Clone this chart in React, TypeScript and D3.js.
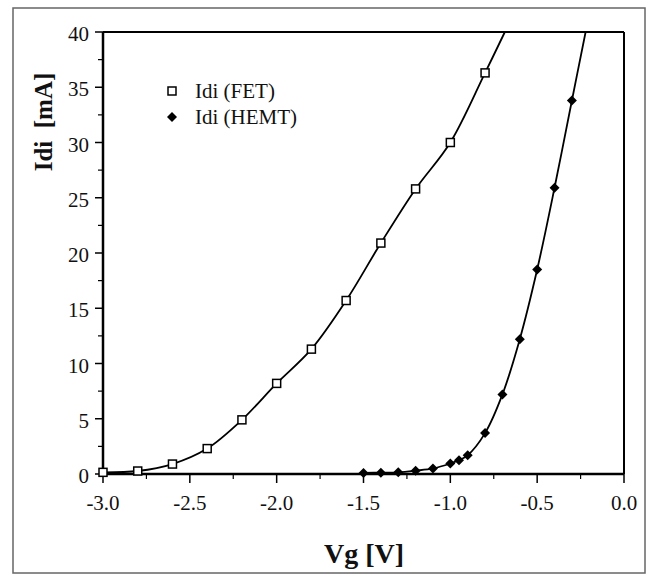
import React from "react";
import * as d3 from "d3";

const fetVg = [-3.0, -2.8, -2.6, -2.4, -2.2, -2.0, -1.8, -1.6, -1.4, -1.2, -1.0, -0.8];
const fetIdi = [0.15, 0.27, 0.9, 2.3, 4.9, 8.2, 11.3, 15.7, 20.9, 25.8, 30.0, 36.3];
const fetCurveEnd = [-0.686, 40];

const hemtVg = [-1.5, -1.4, -1.3, -1.2, -1.1, -1.0, -0.95, -0.9, -0.8, -0.7, -0.6, -0.5, -0.4, -0.3];
const hemtIdi = [0.1, 0.12, 0.15, 0.3, 0.5, 0.95, 1.25, 1.7, 3.7, 7.2, 12.2, 18.5, 25.9, 33.8];
const hemtCurveEnd = [-0.221, 40];

const xTicks = [-3.0, -2.5, -2.0, -1.5, -1.0, -0.5, 0.0];
const xMinor = [-2.75, -2.25, -1.75, -1.25, -0.75, -0.25];
const yTicks = [0, 5, 10, 15, 20, 25, 30, 35, 40];
const yMinor = [2.5, 7.5, 12.5, 17.5, 22.5, 27.5, 32.5, 37.5];

const legendLabels = ["Idi (FET)", "Idi (HEMT)"];

const FONT = "Liberation Serif, Times New Roman, Times, serif";

export default function App() {
  const W = 654, H = 576;
  const L = 103, R = 624, T = 32, B = 474;
  const x = d3.scaleLinear().domain([-3, 0]).range([L, R]);
  const y = d3.scaleLinear().domain([0, 40]).range([B, T]);
  const line = d3
    .line<number[]>()
    .x((d) => x(d[0]))
    .y((d) => y(d[1]))
    .curve(d3.curveCatmullRom.alpha(0.5));
  const fetPts = fetVg.map((v, i) => [v, fetIdi[i]]).concat([fetCurveEnd]);
  const hemtPts = hemtVg.map((v, i) => [v, hemtIdi[i]]).concat([hemtCurveEnd]);
  const sq = 8;
  const dm = 5;
  const diamond = (cx: number, cy: number) =>
    `M${cx},${cy - dm}L${cx + dm},${cy}L${cx},${cy + dm}L${cx - dm},${cy}Z`;
  const ts = { fontFamily: FONT } as React.CSSProperties;

  return (
    <svg
      width={W}
      height={H}
      style={{ position: "absolute", left: 0, top: 0, background: "#fff" }}
    >
      <rect x={0} y={0} width={W} height={H} fill="#fff" />
      <rect x={13} y={8} width={632} height={565} fill="none" stroke="#666" strokeWidth={1.5} />
      {/* plot frame */}
      <line x1={L} x2={R} y1={T} y2={T} stroke="#000" strokeWidth={2} />
      <line x1={R} x2={R} y1={T} y2={B} stroke="#000" strokeWidth={2} />
      <line x1={L} x2={R} y1={B} y2={B} stroke="#000" strokeWidth={2.5} />
      <line x1={L} x2={L} y1={T} y2={B} stroke="#000" strokeWidth={2.5} />
      {/* x ticks */}
      {xTicks.map((t) => (
        <g key={"xt" + t}>
          <line x1={x(t)} x2={x(t)} y1={B} y2={B + 9} stroke="#000" strokeWidth={1.5} />
          <text x={x(t)} y={510} textAnchor="middle" fontSize={21} fill="#111" style={ts}>
            {t.toFixed(1)}
          </text>
        </g>
      ))}
      {xMinor.map((t) => (
        <line key={"xm" + t} x1={x(t)} x2={x(t)} y1={B} y2={B + 5} stroke="#000" strokeWidth={1.2} />
      ))}
      {/* y ticks */}
      {yTicks.map((t) => (
        <g key={"yt" + t}>
          <line x1={L - 8} x2={L} y1={y(t)} y2={y(t)} stroke="#000" strokeWidth={1.5} />
          <text x={89} y={y(t) + 9} textAnchor="end" fontSize={21} fill="#111" style={ts}>
            {t}
          </text>
        </g>
      ))}
      {yMinor.map((t) => (
        <line key={"ym" + t} x1={L - 5} x2={L} y1={y(t)} y2={y(t)} stroke="#000" strokeWidth={1.2} />
      ))}
      {/* curves */}
      <path d={line(fetPts) || ""} fill="none" stroke="#000" strokeWidth={1.8} />
      <path d={line(hemtPts) || ""} fill="none" stroke="#000" strokeWidth={1.8} />
      {/* markers */}
      {fetVg.map((v, i) => (
        <rect
          key={"f" + i}
          x={x(v) - sq / 2}
          y={y(fetIdi[i]) - sq / 2}
          width={sq}
          height={sq}
          fill="#fff"
          stroke="#000"
          strokeWidth={1.5}
        />
      ))}
      {hemtVg.map((v, i) => (
        <path key={"h" + i} d={diamond(x(v), y(hemtIdi[i]))} fill="#000" />
      ))}
      {/* legend */}
      <rect x={168} y={87} width={8} height={8} fill="#fff" stroke="#000" strokeWidth={1.5} />
      <text x={195} y={98} fontSize={21} fill="#111" style={ts}>{legendLabels[0]}</text>
      <path d={diamond(172, 117)} fill="#000" />
      <text x={195} y={124} fontSize={21} fill="#111" style={ts}>{legendLabels[1]}</text>
      {/* axis titles */}
      <text x={364} y={563} textAnchor="middle" fontSize={28} fontWeight="bold" fill="#111" style={ts}>
        Vg [V]
      </text>
      <text
        transform="translate(52,122) rotate(-90)"
        textAnchor="middle"
        fontSize={25}
        fontWeight="bold"
        fill="#111"
        style={{ ...ts, whiteSpace: "pre" }}
      >
        {"Idi  [mA]"}
      </text>
    </svg>
  );
}
